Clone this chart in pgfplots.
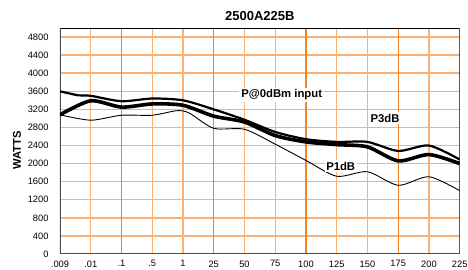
\documentclass[border=0pt]{standalone}
\usepackage{fontspec}
\setmainfont{Liberation Sans}
\usepackage{pgfplots}
\pgfplotsset{compat=1.18}
\definecolor{gridlight}{HTML}{FCB173}
\definecolor{griddark}{HTML}{F58220}
\definecolor{axgray}{HTML}{4D4D4D}
\begin{document}
\begin{tikzpicture}
\begin{axis}[
  scale only axis,
  width=399.7pt, height=226pt,
  xmin=0, xmax=13, ymin=0, ymax=5000,
  xtick={0,1,...,13},
  xticklabels={.009,.01,.1,.5,1,25,50,75,100,125,150,175,200,225},
  ytick={0,400,...,4800},
  /pgf/number format/1000 sep={},
  /pgf/number format/assume math mode=true,
  ticklabel style={font=\fontsize{9.3}{10}\selectfont},
  major tick length=0pt,
  xticklabel style={yshift=-3pt},
  yticklabel style={xshift=-8pt},
  axis line style={draw=none},
  title={\textbf{2500A225B}},
  title style={font=\fontsize{13}{13}\selectfont, yshift=-2pt},
  ylabel={\textbf{WATTS}},
  ylabel style={font=\fontsize{11.2}{11.2}\selectfont, at={(ticklabel cs:0.46)}},
]
% horizontal grid lines
\pgfplotsinvokeforeach{400,800,...,4800}{
  \addplot[gridlight, line width=1.4pt, forget plot] coordinates {(0,#1) (13,#1)};
}
% light vertical grid lines
\pgfplotsinvokeforeach{1,3,4,6,7,9,10,12}{
  \addplot[gridlight, line width=1.4pt, forget plot] coordinates {(#1,0) (#1,5000)};
}
% darker vertical grid lines
\pgfplotsinvokeforeach{2,5,8,11}{
  \addplot[griddark, line width=1.3pt, forget plot] coordinates {(#1,0) (#1,5000)};
}
% borders
\addplot[draw=black, line width=0.9pt, forget plot] coordinates {(0,5000) (13,5000) (13,0)};
\addplot[draw=axgray, line width=1.8pt, forget plot] coordinates {(0,5000) (0,0) (13,0)};
% top line
\addplot[black, line width=2.2pt, smooth, tension=0.45] coordinates {
 (0,3600) (0.6,3510) (1,3500) (2,3380) (3,3440) (4,3400) (5,3200) (6,2970) (7,2700) (8,2540) (9,2480) (10,2480) (11,2280) (12,2400) (13,2090)};
% thick line
\addplot[black, line width=3.6pt, smooth, tension=0.45] coordinates {
 (0,3080) (1,3390) (2,3250) (3,3320) (4,3290) (5,3050) (6,2920) (7,2620) (8,2480) (9,2420) (10,2370) (11,2060) (12,2200) (13,2000)};
% thin line
\addplot[black, line width=0.9pt, smooth, tension=0.45] coordinates {
 (0,3080) (1,2960) (2,3070) (3,3070) (3.8,3170) (4.2,3120) (5,2780) (6,2760) (7,2430) (8,2070) (9,1720) (10,1820) (11,1520) (12,1710) (13,1400)};
\node[fill=white, inner sep=2pt, font=\bfseries\fontsize{11.3}{12}\selectfont] at (axis cs:7.21,3517) {P@0dBm input};
\node[fill=white, inner sep=1.5pt, font=\bfseries\fontsize{11.3}{12}\selectfont] at (axis cs:10.57,3008) {P3dB};
\node[fill=white, inner sep=1.5pt, font=\bfseries\fontsize{11.3}{12}\selectfont] at (axis cs:9.13,1947) {P1dB};
\end{axis}
\pgfresetboundingbox
\path[use as bounding box] (-60pt,-16pt) rectangle (408pt,254pt);
\end{tikzpicture}
\end{document}
